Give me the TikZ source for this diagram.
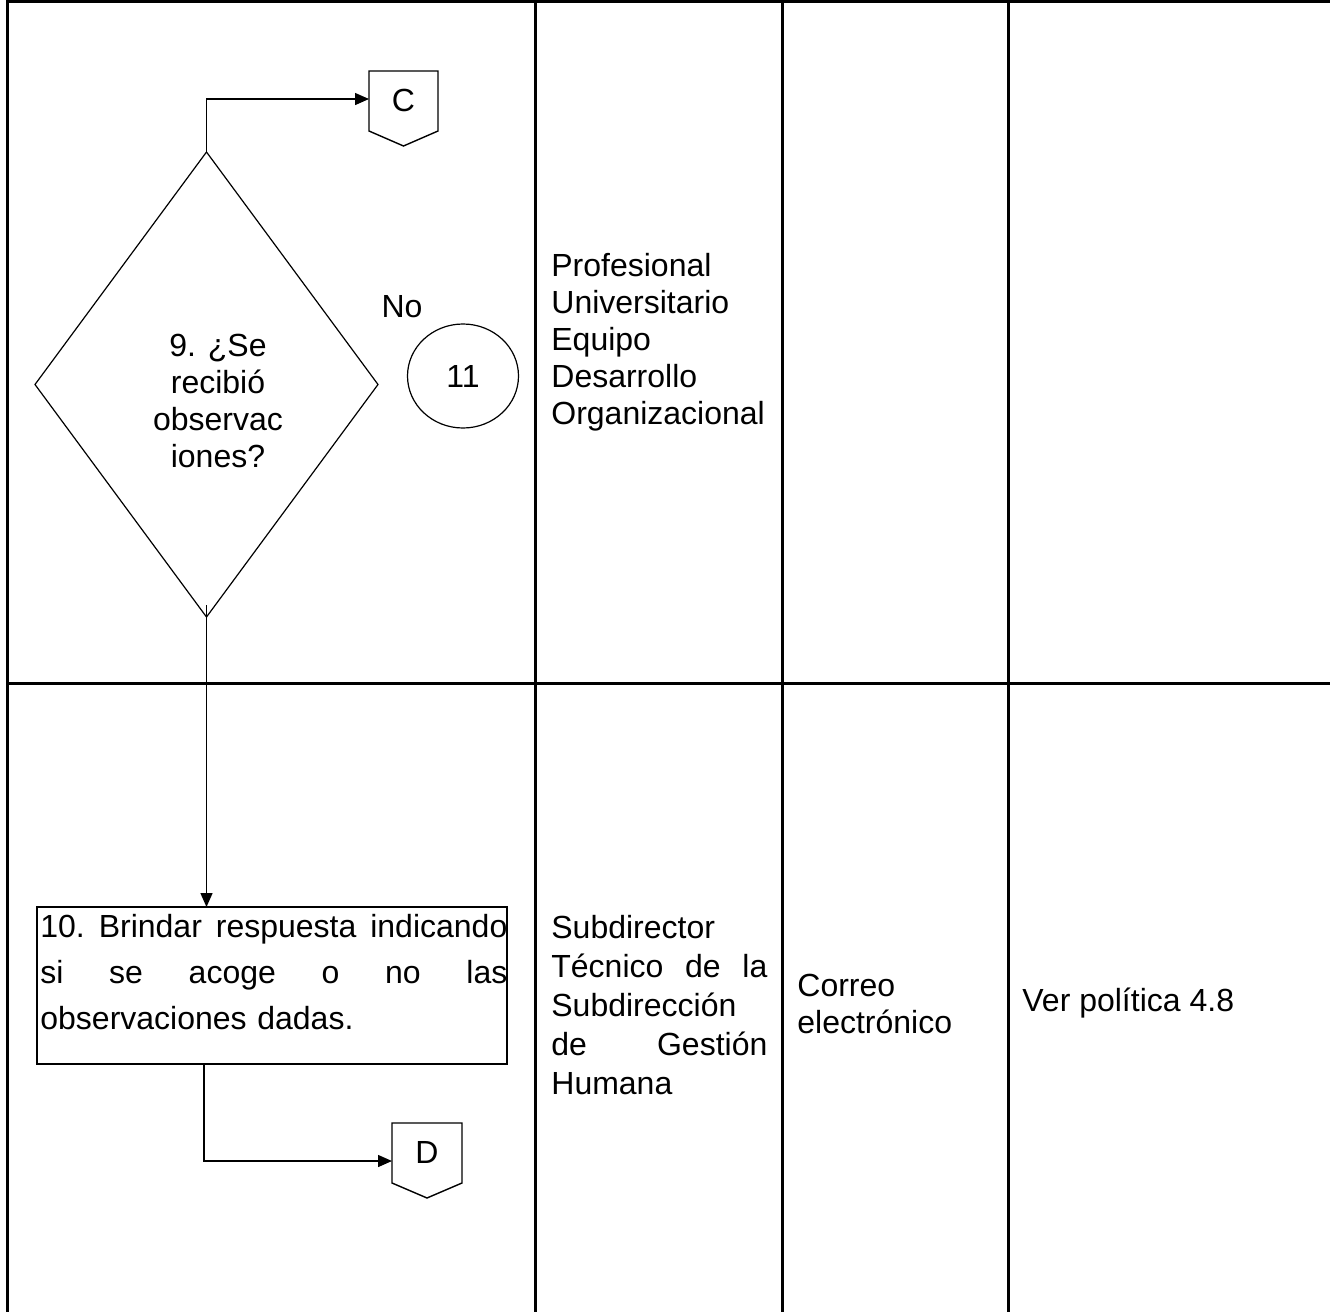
\documentclass[tikz,border=0pt]{standalone}
\usepackage{fontspec}
\setmainfont{Liberation Sans}
\usetikzlibrary{shapes.geometric,arrows.meta}
\begin{document}
\begin{tikzpicture}[x=0.5pt,y=-0.5pt,
  grid/.style={line width=1.5pt},
  flow/.style={line width=0.7pt},
  arr/.style={flow,-{Triangle[length=7pt,width=6pt]}},
  txt/.style={font=\fontsize{16pt}{18.5pt}\selectfont, inner sep=0pt},
  cell/.style={txt, anchor=west, align=left},
  decision/.style={diamond, draw, line width=0.6pt, minimum width=171.5pt,
    minimum height=232.5pt, inner sep=0pt, outer sep=0pt},
  terminal/.style={ellipse, draw, line width=0.6pt, minimum width=55.5pt,
    minimum height=52pt, inner sep=0pt, outer sep=0pt},
  process/.style={draw, line width=0.9pt, minimum width=235pt,
    minimum height=78.5pt, inner sep=0pt, outer sep=0pt},
  pageref/.style={flow, line join=miter}
]
\useasboundingbox (0,0) rectangle (1330,1312);

% table grid
\draw[grid] (7,1312) -- (7,1.5) -- (1330,1.5);
\draw[grid] (7,683) -- (1330,683);
\foreach \x in {535,782,1008} \draw[grid] (\x,1.5) -- (\x,1312);

% decision 9
\node[decision] (dia) at (206.5,384.5) {};
\node[txt, align=center] (qt) at (218,401) {9. ¿Se\\recibió\\observac\\iones?};

% off-page connector C
\node[txt] (C) at (403.5,100) {C};
\draw[pageref] ([shift={(-34.5,-29)}]C.center) -- ([shift={(34.5,-29)}]C.center)
  -- ([shift={(34.5,31)}]C.center) -- ([shift={(0,46)}]C.center)
  -- ([shift={(-34.5,31)}]C.center) -- cycle;
\coordinate (Cin) at ([shift={(-34.5,-1)}]C.center);
\draw[arr] (dia.north) |- (Cin);

% branch "No" to 11
\node[txt] (no) at (402,307) {No};
\node[terminal, txt] (e11) at (463,376) {11};

% activity 10
\node[process] (b10) at (272,985.5) {};
\node[txt, anchor=north west, text width=233.5pt, align=left,
  font=\fontsize{16pt}{23pt}\selectfont] (t10) at (40,914)
  {10.\hfill Brindar\hfill respuesta\hfill indicando\\
   si\hfill se\hfill acoge\hfill o\hfill no\hfill las\\
   observaciones dadas.};
\draw[arr] ([yshift=6pt]dia.south) -- (dia.south |- b10.north);

% off-page connector D
\node[txt] (D) at (427,1152) {D};
\draw[pageref] ([shift={(-35,-29)}]D.center) -- ([shift={(35,-29)}]D.center)
  -- ([shift={(35,31)}]D.center) -- ([shift={(0,46)}]D.center)
  -- ([shift={(-35,31)}]D.center) -- cycle;
\coordinate (Din) at ([shift={(-35,9)}]D.center);
\coordinate (b10out) at ([xshift=-34pt]b10.south);
\draw[arr] (b10out) |- (Din);

% responsible, medium and notes columns
\node[cell] (role1) at (551,342)
  {Profesional\\Universitario\\Equipo\\Desarrollo\\Organizacional};
\node[cell, text width=108pt, font=\fontsize{16pt}{19.5pt}\selectfont] (role2) at (551,1005)
  {Subdirector\\Técnico\hfill de\hfill la\\Subdirección\\de\hfill Gestión\\Humana};
\node[cell] (medio) at (797,1004) {Correo\\electrónico};
\node[cell] (pol) at (1022,1003) {Ver política 4.8};
\end{tikzpicture}
\end{document}
